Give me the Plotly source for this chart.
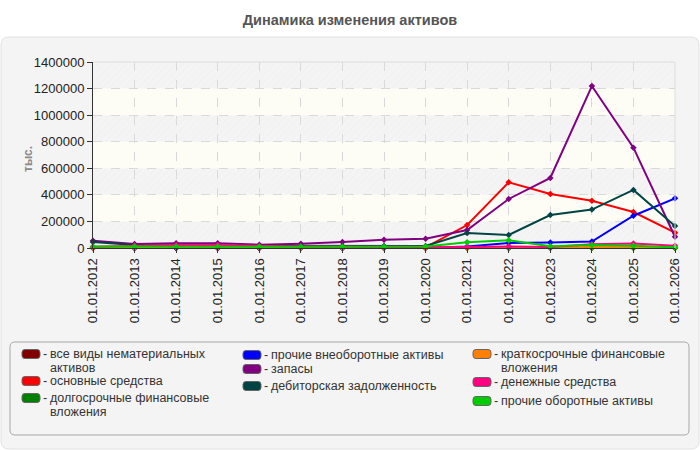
import plotly.graph_objects as go
import textwrap

# ---------------- data ----------------
dates = ["01.01.2012", "01.01.2013", "01.01.2014", "01.01.2015", "01.01.2016",
         "01.01.2017", "01.01.2018", "01.01.2019", "01.01.2020", "01.01.2021",
         "01.01.2022", "01.01.2023", "01.01.2024", "01.01.2025", "01.01.2026"]

intangible = [0, 0, 0, 0, 0, 0, 0, 0, 0, 0, 0, 2000, 3000, 1000, 0]
fixed_assets = [0, 0, 0, 0, 0, 0, 0, 0, 5000, 173000, 494000, 406000, 356000, 271000, 115000]
longterm_fin = [6000, 5000, 5000, 5000, 4000, 4000, 4000, 4000, 4000, 0, 0, 0, 0, 0, 0]
other_noncurrent = [0, 0, 0, 0, 0, 0, 0, 0, 0, 12000, 38000, 42000, 48000, 243000, 374000]
inventory = [55000, 30000, 35000, 35000, 25000, 32000, 45000, 63000, 70000, 135000, 369000, 527000, 1219000, 755000, 85000]
receivables = [45000, 22000, 18000, 17000, 15000, 15000, 15000, 15000, 15000, 113000, 98000, 248000, 289000, 437000, 166000]
shortterm_fin = [0, 0, 4000, 4000, 3000, 0, 0, 0, 0, 0, 3000, 5000, 8000, 7000, 3000]
cash = [10000, 18000, 22000, 22000, 15000, 12000, 10000, 8000, 8000, 8000, 12000, 8000, 28000, 33000, 17000]
other_current = [12000, 10000, 10000, 10000, 10000, 10000, 10000, 10000, 12000, 43000, 58000, 13000, 22000, 17000, 5000]

series_names = ["все виды нематериальных активов", "основные средства",
                "долгосрочные финансовые вложения", "прочие внеоборотные активы",
                "запасы", "дебиторская задолженность",
                "краткосрочные финансовые вложения", "денежные средства",
                "прочие оборотные активы"]
series_values = [intangible, fixed_assets, longterm_fin, other_noncurrent,
                 inventory, receivables, shortterm_fin, cash, other_current]
series_colors = ["#800000", "#ff0000", "#008000", "#0000ff", "#800080",
                 "#004444", "#ff8000", "#ff0080", "#00cc00"]

y_ticks = [0, 200000, 400000, 600000, 800000, 1000000, 1200000, 1400000]
title_text = "Динамика изменения активов"
y_title = "тыс."

# ---------------- geometry helpers ----------------
W, H = 700, 450
ML, MR, MT, MB = 93, 25, 62, 202
PW, PH = W - ML - MR, H - MT - MB
FONT = "Arial, Liberation Sans, sans-serif"


def X(px):
    return (px - ML) / PW


def Y(py):
    return (MT + PH - py) / PH


def rrect(x0, y0, x1, y1, r):
    rx, ry = r / PW, r / PH
    a, b, c, d = X(x0), Y(y1), X(x1), Y(y0)  # left, bottom, right, top (paper)
    return (f"M{a+rx},{d} L{c-rx},{d} Q{c},{d} {c},{d-ry} L{c},{b+ry} Q{c},{b} {c-rx},{b} "
            f"L{a+rx},{b} Q{a},{b} {a},{b+ry} L{a},{d-ry} Q{a},{d} {a+rx},{d} Z")


xs = list(range(len(dates)))
fig = go.Figure()

# hatched bands
for i in range(0, len(y_ticks) - 1, 2):
    lo, hi = y_ticks[i], y_ticks[i + 1]
    fig.add_trace(go.Scatter(
        x=[xs[0], xs[-1], xs[-1], xs[0], xs[0]], y=[lo, lo, hi, hi, lo],
        mode="none", fill="toself", fillcolor="rgba(0,0,0,0)",
        fillpattern=dict(shape="/", fgcolor="#ececec", bgcolor="rgba(0,0,0,0)",
                         size=5, solidity=0.2),
        hoverinfo="skip", showlegend=False))

for name, vals, col in zip(series_names, series_values, series_colors):
    fig.add_trace(go.Scatter(
        x=xs, y=vals, name=name, mode="lines+markers",
        line=dict(color=col, width=2),
        marker=dict(symbol="diamond", size=5, color=col),
        cliponaxis=False, showlegend=False))

shapes = []
# panel
shapes.append(dict(type="path", xref="paper", yref="paper", layer="below",
                   path=rrect(1, 37, 699, 449, 8),
                   fillcolor="#f4f4f4", line=dict(color="#e2e2e2", width=1)))
# cream bands
for i in range(1, len(y_ticks) - 1, 2):
    shapes.append(dict(type="rect", xref="x", yref="y", layer="below",
                       x0=xs[0], x1=xs[-1], y0=y_ticks[i], y1=y_ticks[i + 1],
                       fillcolor="#fdfdf6", line=dict(width=0)))
# plot area top/right border
shapes.append(dict(type="line", xref="paper", yref="paper", x0=0, x1=1, y0=1, y1=1,
                   line=dict(color="#dcdcdc", width=1)))
shapes.append(dict(type="line", xref="paper", yref="paper", x0=1, x1=1, y0=0, y1=1,
                   line=dict(color="#dcdcdc", width=1)))
# legend box
shapes.append(dict(type="path", xref="paper", yref="paper", layer="below",
                   path=rrect(10, 342, 689, 435, 5),
                   fillcolor="#f4f4f4", line=dict(color="#a8a8a8", width=1)))

annotations = []
annotations.append(dict(text=y_title, xref="paper", yref="paper", x=X(19), y=Y(159),
                        textangle=-90, showarrow=False,
                        font=dict(family=FONT, size=12, color="#8a8a8a", weight="bold")))

# custom legend (3 columns)
LFS = 12.5
LSP = 14
legend_cols = [[0, 1, 2], [3, 4, 5], [6, 7, 8]]
col_x = [22, 243, 473]
col_rows = [[354, 381, 398], [355, 369, 386], [354, 382, 401]]
for ci, items in enumerate(legend_cols):
    sx = col_x[ci]
    for ri, idx in enumerate(items):
        yc = col_rows[ci][ri]
        shapes.append(dict(type="path", xref="paper", yref="paper",
                           path=rrect(sx, yc - 4.5, sx + 18, yc + 4.5, 3),
                           fillcolor=series_colors[idx],
                           line=dict(color="#666666", width=1)))
        annotations.append(dict(text="-", xref="paper", yref="paper", x=X(sx + 20), y=Y(yc),
                                xanchor="left", yanchor="middle", showarrow=False,
                                borderpad=0,
                                font=dict(family=FONT, size=LFS, color="#333333")))
        lines = textwrap.wrap(series_names[idx], 26)
        for li, ln in enumerate(lines):
            annotations.append(dict(text=ln, xref="paper", yref="paper",
                                    x=X(sx + 27), y=Y(yc + li * LSP),
                                    xanchor="left", yanchor="middle", showarrow=False,
                                    borderpad=0,
                                    font=dict(family=FONT, size=LFS, color="#333333")))

fig.update_layout(
    width=W, height=H,
    margin=dict(l=ML, r=MR, t=MT, b=MB),
    paper_bgcolor="white", plot_bgcolor="white",
    title=dict(text=title_text, x=0.5, xanchor="center", y=1 - 20 / H, yanchor="middle",
               font=dict(family=FONT, size=14.5, color="#555555", weight="bold")),
    xaxis=dict(range=[xs[0], xs[-1]], tickvals=xs, ticktext=dates, tickangle=-90,
               ticks="outside", ticklen=4, tickcolor="#333333",
               showline=True, linecolor="#333333", linewidth=1,
               showgrid=True, gridcolor="#d8d8d8", griddash="dash", zeroline=False,
               tickfont=dict(family=FONT, size=13, color="#222222")),
    yaxis=dict(range=[y_ticks[0], y_ticks[-1]], tickvals=y_ticks, tickformat="d",
               ticks="outside", ticklen=5, tickcolor="#333333",
               showline=True, linecolor="#333333", linewidth=1,
               showgrid=True, gridcolor="#d8d8d8", griddash="dash", zeroline=False,
               tickfont=dict(family=FONT, size=13, color="#222222")),
    shapes=shapes, annotations=annotations,
    hovermode=False,
)

fig.write_html("out.html")
